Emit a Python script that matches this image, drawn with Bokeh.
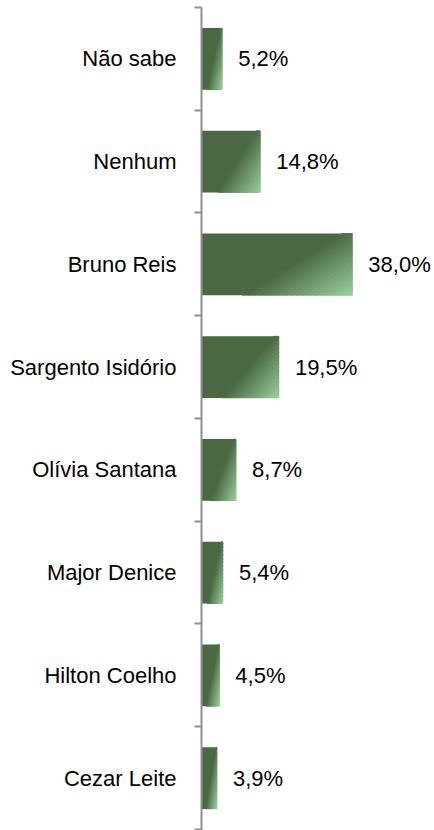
from bokeh.plotting import figure
from bokeh.models import Range1d, FixedTicker, ColumnDataSource
from bokeh.core.properties import value
from bokeh.embed import file_html
from bokeh.resources import INLINE

# ---- data (top to bottom) ----
categories = ["Não sabe", "Nenhum", "Bruno Reis", "Sargento Isidório",
              "Olívia Santana", "Major Denice", "Hilton Coelho", "Cezar Leite"]
values = [5.2, 14.8, 38.0, 19.5, 8.7, 5.4, 4.5, 3.9]
value_labels = ["5,2%", "14,8%", "38,0%", "19,5%", "8,7%", "5,4%", "4,5%", "3,9%"]

n = len(categories)
ypos = [n - 1 - i for i in range(n)]
bar_h = 0.6

DARK = (74, 104, 66)
LIGHT = (155, 208, 160)
FONT = "Liberation Sans"

p = figure(width=434, height=830, output_backend="svg", toolbar_location=None,
           x_range=Range1d(0, 58.7), y_range=Range1d(-0.51, n - 0.5),
           min_border_left=201, min_border_right=0, min_border_top=7,
           min_border_bottom=0)
p.outline_line_color = None
p.xgrid.visible = False
p.ygrid.visible = False
p.xaxis.visible = False
p.background_fill_color = "white"
p.border_fill_color = "white"

# base bars
src = ColumnDataSource(dict(y=ypos, right=values))
p.hbar(y="y", left=0, right="right", height=bar_h, source=src,
       fill_color="#%02x%02x%02x" % DARK, line_color=None)


# gradient overlay (diagonal toward bottom-right corner)
def clip(poly, a, b, c, keep_ge):
    def inside(pt):
        s = a * pt[0] + b * pt[1] - c
        return s >= 0 if keep_ge else s <= 0
    out = []
    for i in range(len(poly)):
        cur = poly[i]
        prev = poly[i - 1]
        ci, pi_ = inside(cur), inside(prev)
        if ci != pi_:
            s1 = a * prev[0] + b * prev[1] - c
            s2 = a * cur[0] + b * cur[1] - c
            t = s1 / (s1 - s2)
            out.append((prev[0] + t * (cur[0] - prev[0]),
                        prev[1] + t * (cur[1] - prev[1])))
        if ci:
            out.append(cur)
    return out


K = 0.66
T0, T1 = 0.93, 1.0 + K
NB = 18
gx, gy, gc = [], [], []
for v, yc in zip(values, ypos):
    top = yc + bar_h / 2
    for k in range(NB):
        a = T0 + (T1 - T0) * k / NB
        b = T0 + (T1 - T0) * (k + 1) / NB
        sq = [(0, 0), (1, 0), (1, 1), (0, 1)]
        poly = clip(sq, 1, K, a, True)
        if poly:
            poly = clip(poly, 1, K, b, False)
        if len(poly) < 3:
            continue
        f = (k + 0.5) / NB
        col = tuple(int(round(DARK[j] + (LIGHT[j] - DARK[j]) * f)) for j in range(3))
        gx.append([u * v for (u, w) in poly])
        gy.append([top - w * bar_h for (u, w) in poly])
        gc.append("#%02x%02x%02x" % col)

p.patches(xs=gx, ys=gy, fill_color=gc, line_color=gc, line_width=0.6)

# value labels
p.text(x=values, y=ypos, text=value_labels, x_offset=16,
       text_align="left", text_baseline="middle",
       text_font=value(FONT), text_font_size="22px", text_color="#000000")

# y axis: labels at centres, ticks at boundaries
ax = p.yaxis[0]
ax.ticker = FixedTicker(ticks=ypos, minor_ticks=[i - 0.5 for i in range(n + 1)])
ax.major_label_overrides = {y: c for y, c in zip(ypos, categories)}
ax.major_tick_line_color = None
ax.major_tick_out = 0
ax.major_tick_in = 0
ax.minor_tick_line_color = "#8b9097"
ax.minor_tick_line_width = 2
ax.minor_tick_out = 7
ax.minor_tick_in = 0
ax.axis_line_color = "#8b9097"
ax.axis_line_width = 2
ax.major_label_standoff = 18
ax.major_label_text_font = FONT
ax.major_label_text_font_size = "22px"
ax.major_label_text_color = "#000000"

open("out.html", "w").write(file_html(p, INLINE))
